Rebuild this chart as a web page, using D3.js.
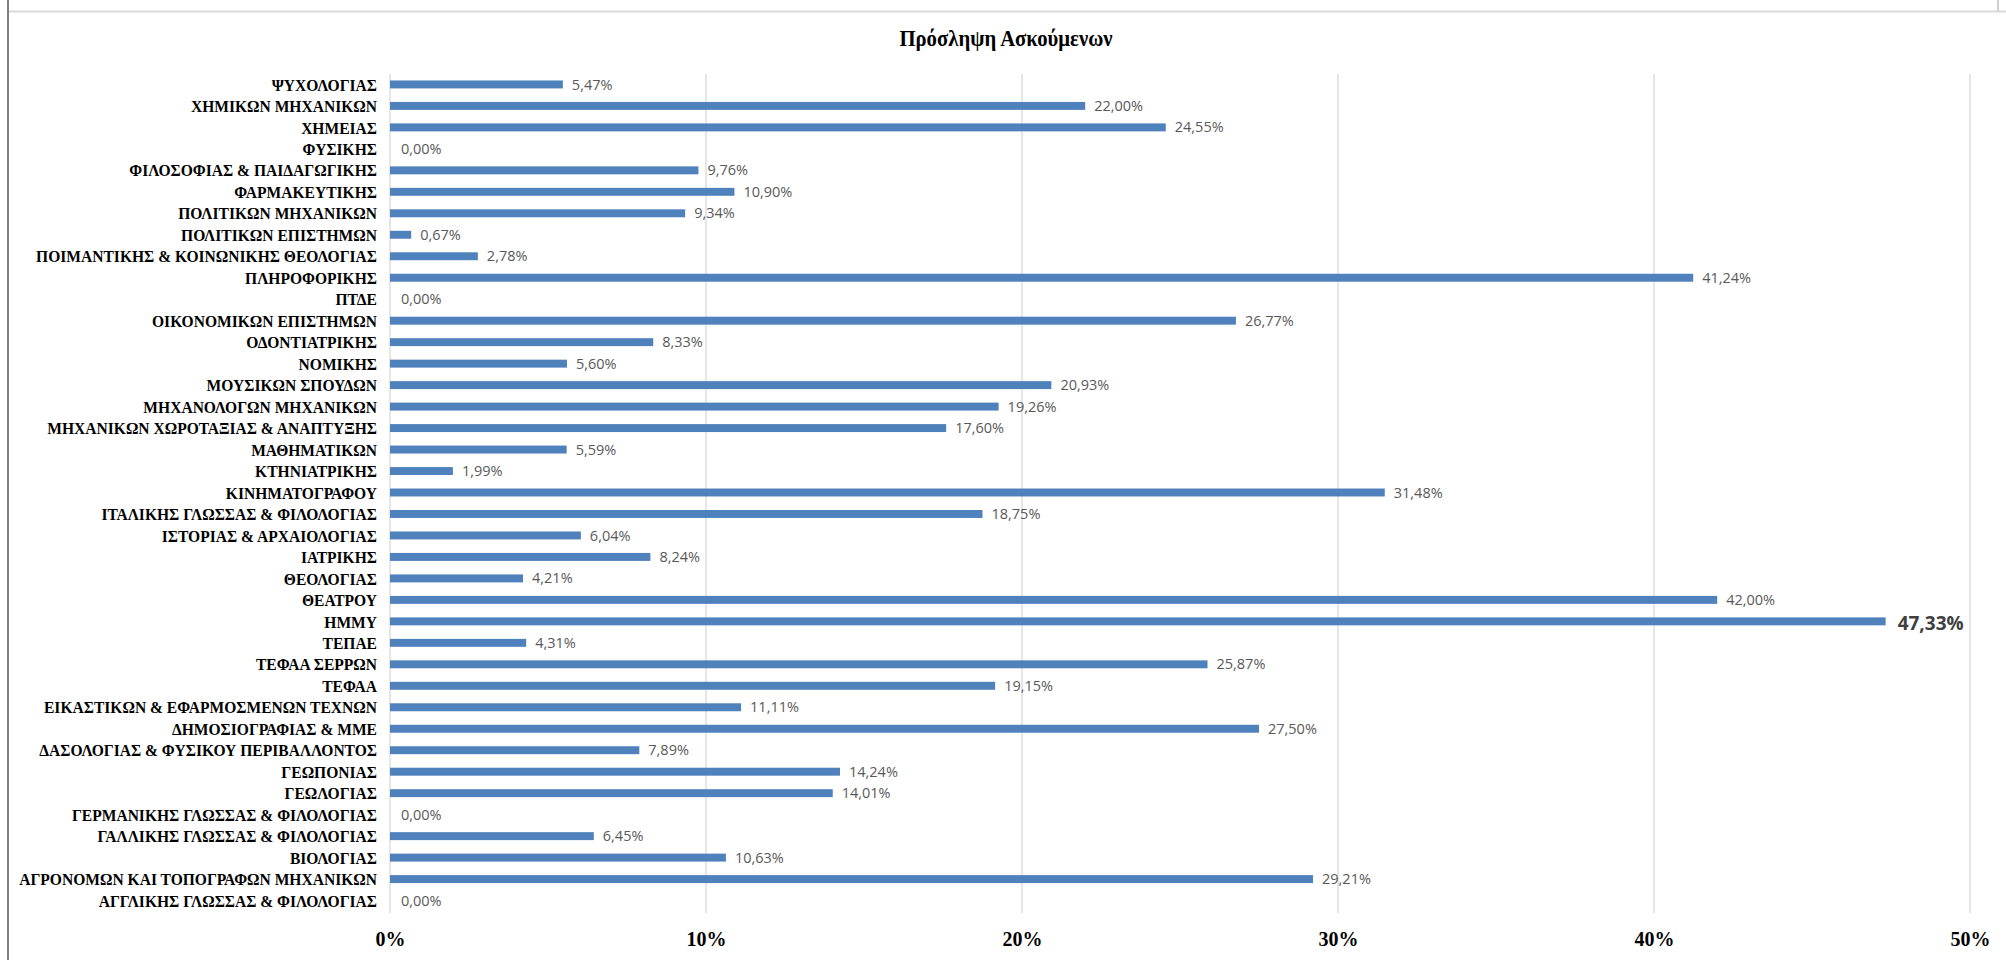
<!DOCTYPE html>
<html>
<head>
<meta charset="utf-8">
<script src="https://cdn.jsdelivr.net/npm/d3@7"></script>
<style>
  html, body { margin: 0; padding: 0; background: #ffffff; }
  svg { display: block; }
  .cat { font-family: "Liberation Serif", "Times New Roman", serif; font-weight: bold; font-size: 17.5px; fill: #000; }
  .val { font-family: "Liberation Sans Narrow", "Arial Narrow", "Open Sans", sans-serif; font-size: 14.5px; fill: #595959; }
  .val.max { font-family: "Open Sans", "Liberation Sans", sans-serif; font-weight: bold; font-size: 19px; fill: #404040; }
  .tick text { font-family: "Liberation Serif", "Times New Roman", serif; font-weight: bold; font-size: 20px; fill: #000; }
  .title { font-family: "Liberation Serif", "Times New Roman", serif; font-weight: bold; font-size: 23px; fill: #000; }
</style>
</head>
<body>
<svg id="chart" width="2006" height="960"></svg>
<script>
// Departments, listed top to bottom
const categories = [
  "ΨΥΧΟΛΟΓΙΑΣ",
  "ΧΗΜΙΚΩΝ ΜΗΧΑΝΙΚΩΝ",
  "ΧΗΜΕΙΑΣ",
  "ΦΥΣΙΚΗΣ",
  "ΦΙΛΟΣΟΦΙΑΣ & ΠΑΙΔΑΓΩΓΙΚΗΣ",
  "ΦΑΡΜΑΚΕΥΤΙΚΗΣ",
  "ΠΟΛΙΤΙΚΩΝ ΜΗΧΑΝΙΚΩΝ",
  "ΠΟΛΙΤΙΚΩΝ ΕΠΙΣΤΗΜΩΝ",
  "ΠΟΙΜΑΝΤΙΚΗΣ & ΚΟΙΝΩΝΙΚΗΣ ΘΕΟΛΟΓΙΑΣ",
  "ΠΛΗΡΟΦΟΡΙΚΗΣ",
  "ΠΤΔΕ",
  "ΟΙΚΟΝΟΜΙΚΩΝ ΕΠΙΣΤΗΜΩΝ",
  "ΟΔΟΝΤΙΑΤΡΙΚΗΣ",
  "ΝΟΜΙΚΗΣ",
  "ΜΟΥΣΙΚΩΝ ΣΠΟΥΔΩΝ",
  "ΜΗΧΑΝΟΛΟΓΩΝ ΜΗΧΑΝΙΚΩΝ",
  "ΜΗΧΑΝΙΚΩΝ ΧΩΡΟΤΑΞΙΑΣ & ΑΝΑΠΤΥΞΗΣ",
  "ΜΑΘΗΜΑΤΙΚΩΝ",
  "ΚΤΗΝΙΑΤΡΙΚΗΣ",
  "ΚΙΝΗΜΑΤΟΓΡΑΦΟΥ",
  "ΙΤΑΛΙΚΗΣ ΓΛΩΣΣΑΣ & ΦΙΛΟΛΟΓΙΑΣ",
  "ΙΣΤΟΡΙΑΣ & ΑΡΧΑΙΟΛΟΓΙΑΣ",
  "ΙΑΤΡΙΚΗΣ",
  "ΘΕΟΛΟΓΙΑΣ",
  "ΘΕΑΤΡΟΥ",
  "ΗΜΜΥ",
  "ΤΕΠΑΕ",
  "ΤΕΦΑΑ ΣΕΡΡΩΝ",
  "ΤΕΦΑΑ",
  "ΕΙΚΑΣΤΙΚΩΝ & ΕΦΑΡΜΟΣΜΕΝΩΝ ΤΕΧΝΩΝ",
  "ΔΗΜΟΣΙΟΓΡΑΦΙΑΣ & ΜΜΕ",
  "ΔΑΣΟΛΟΓΙΑΣ & ΦΥΣΙΚΟΥ ΠΕΡΙΒΑΛΛΟΝΤΟΣ",
  "ΓΕΩΠΟΝΙΑΣ",
  "ΓΕΩΛΟΓΙΑΣ",
  "ΓΕΡΜΑΝΙΚΗΣ ΓΛΩΣΣΑΣ & ΦΙΛΟΛΟΓΙΑΣ",
  "ΓΑΛΛΙΚΗΣ ΓΛΩΣΣΑΣ & ΦΙΛΟΛΟΓΙΑΣ",
  "ΒΙΟΛΟΓΙΑΣ",
  "ΑΓΡΟΝΟΜΩΝ ΚΑΙ ΤΟΠΟΓΡΑΦΩΝ ΜΗΧΑΝΙΚΩΝ",
  "ΑΓΓΛΙΚΗΣ ΓΛΩΣΣΑΣ & ΦΙΛΟΛΟΓΙΑΣ"
];

// Placement rate per department, in percent
const placementRate = [
  5.47, 22.00, 24.55, 0.00, 9.76, 10.90, 9.34, 0.67, 2.78, 41.24,
  0.00, 26.77, 8.33, 5.60, 20.93, 19.26, 17.60, 5.59, 1.99, 31.48,
  18.75, 6.04, 8.24, 4.21, 42.00, 47.33, 4.31, 25.87, 19.15, 11.11,
  27.50, 7.89, 14.24, 14.01, 0.00, 6.45, 10.63, 29.21, 0.00
];

const xTicks = [0, 10, 20, 30, 40, 50];
const chartTitle = "Πρόσληψη Ασκούμενων";

const data = categories.map((c, i) => ({ name: c, value: placementRate[i] }));
const maxValue = d3.max(placementRate);

const svg = d3.select("#chart");
const W = 2006, H = 960;
const plot = { left: 390, right: 1970, top: 73.7, bottom: 911.3 };

// Frame lines
svg.append("line").attr("x1", 8).attr("x2", 8).attr("y1", 0).attr("y2", H)
  .attr("stroke", "#7f7f7f").attr("stroke-width", 2);
svg.append("line").attr("x1", 9).attr("x2", W).attr("y1", 11.5).attr("y2", 11.5)
  .attr("stroke", "#d9d9d9").attr("stroke-width", 2);
svg.append("line").attr("x1", 1998).attr("x2", 1998).attr("y1", 0).attr("y2", 11)
  .attr("stroke", "#bfbfbf").attr("stroke-width", 1.5);

const x = d3.scaleLinear().domain([0, 50]).range([plot.left, plot.right]);
const y = d3.scaleBand().domain(categories).range([plot.top, plot.bottom])
  .paddingInner(0.63).paddingOuter(0.315);

// Vertical gridlines
svg.append("g").selectAll("line").data(xTicks).join("line")
  .attr("x1", d => x(d)).attr("x2", d => x(d))
  .attr("y1", plot.top).attr("y2", plot.bottom + 2)
  .attr("stroke", "#d9d9d9").attr("stroke-width", 1.3);

// Bottom axis: tick labels only
const xAxis = d3.axisBottom(x).tickValues(xTicks)
  .tickFormat(d => d + "%").tickSize(0).tickPadding(0);
const gx = svg.append("g").attr("transform", `translate(0, ${plot.bottom + 20})`).call(xAxis);
gx.select(".domain").remove();
gx.selectAll(".tick text").attr("dy", "0.71em");

// Category labels (slightly condensed serif)
svg.append("g").selectAll("text").data(data).join("text")
  .attr("class", "cat")
  .attr("transform", d => `translate(${plot.left - 13}, ${y(d.name) + y.bandwidth() / 2}) scale(0.89, 1)`)
  .attr("dy", "0.35em")
  .attr("text-anchor", "end")
  .text(d => d.name);

// Bars
svg.append("g").selectAll("rect").data(data).join("rect")
  .attr("x", x(0))
  .attr("y", d => y(d.name))
  .attr("width", d => x(d.value) - x(0))
  .attr("height", y.bandwidth())
  .attr("fill", "#4f81bd");

// Value labels
const fmt = v => v.toFixed(2).replace(".", ",") + "%";
svg.append("g").selectAll("text").data(data).join("text")
  .attr("class", d => d.value === maxValue ? "val max" : "val")
  .attr("x", d => x(d.value) + (d.value === maxValue ? 12 : (d.value === 0 ? 11 : 9)))
  .attr("y", d => y(d.name) + y.bandwidth() / 2 + (d.value === maxValue ? 2 : 0))
  .attr("dy", "0.35em")
  .text(d => fmt(d.value));

// Title (condensed serif)
svg.append("text").attr("class", "title")
  .attr("transform", "translate(1006, 46) scale(0.9, 1)")
  .attr("text-anchor", "middle")
  .text(chartTitle);
</script>
</body>
</html>
